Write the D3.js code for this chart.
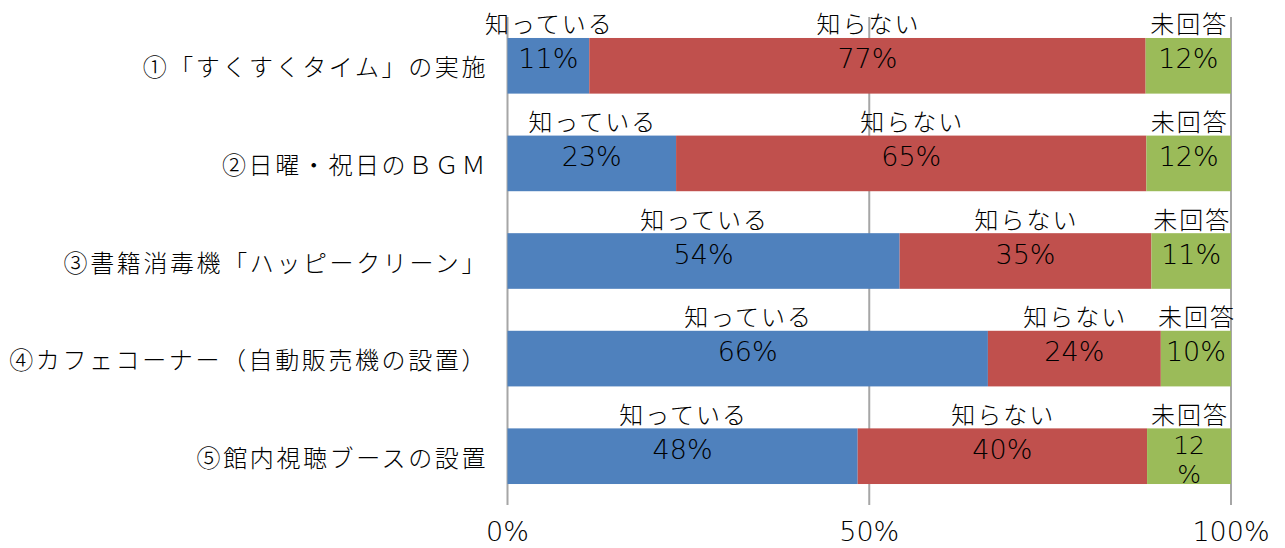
<!DOCTYPE html>
<html><head><meta charset="utf-8">
<script src="https://cdn.jsdelivr.net/npm/d3@7"></script>
<style>
html,body{margin:0;padding:0;background:#fff;}
text{font-family:"Noto Sans CJK JP","Noto Sans",sans-serif;fill:#000;}
.jp{font-weight:300;}
.num{font-family:"DejaVu Sans","Noto Sans",sans-serif;font-weight:200;}
</style></head>
<body><svg id="chart" width="1285" height="548"></svg>
<script>
const categories = [
  "①「すくすくタイム」の実施",
  "②日曜・祝日のＢＧＭ",
  "③書籍消毒機「ハッピークリーン」",
  "④カフェコーナー（自動販売機の設置）",
  "⑤館内視聴ブースの設置"
];
const seriesNames = ["知っている", "知らない", "未回答"];
const known   = [11.3, 23.3, 54.2, 66.4, 48.4];
const unknown = [76.9, 65.0, 34.8, 23.9, 40.0];
const noAnswer= [11.8, 11.7, 11.0, 9.7, 11.6];
const xTicks = [0, 50, 100];
const tickLabels = ["0%", "50%", "100%"];
// labels that wrap onto two lines in the original: [row, series]
const wrappedLabels = [[4, 2]];

const colors = ["#4F81BD", "#C0504D", "#9BBB59"];

const svg = d3.select("#chart");
const x = d3.scaleLinear().domain([0, 100]).range([507.5, 1231]);
const y = d3.scaleBand().domain(categories).range([17, 505]).paddingInner(0.43).paddingOuter(0.215);

const rows = categories.map((c, i) => ({cat: c, vals: [known[i], unknown[i], noAnswer[i]]}));
const stack = d3.stack().keys([0, 1, 2]).value((d, k) => d.vals[k]);
const series = stack(rows);

// gridlines
svg.append("g").selectAll("line").data(xTicks).join("line")
  .attr("x1", d => x(d)).attr("x2", d => x(d))
  .attr("y1", 17).attr("y2", 505)
  .attr("stroke", "#A6A6A6").attr("stroke-width", 2);

// bars
series.forEach((s, k) => {
  svg.append("g").selectAll("rect").data(s).join("rect")
    .attr("x", d => x(d[0]))
    .attr("width", d => x(d[1]) - x(d[0]))
    .attr("y", (d, i) => y(categories[i]))
    .attr("height", y.bandwidth())
    .attr("fill", colors[k]);
});

// series name labels above each segment + value labels
series.forEach((s, k) => {
  s.forEach((d, i) => {
    const cx = (x(d[0]) + x(d[1])) / 2;
    const top = y(categories[i]);
    svg.append("text").attr("class", "jp")
      .attr("x", cx + 1).attr("y", top - 15)
      .attr("text-anchor", "middle").attr("dominant-baseline", "central")
      .style("font-size", "24px").style("letter-spacing", "2px")
      .text(seriesNames[k]);
    const label = Math.round(d.data.vals[k]) + "%";
    const wrap = wrappedLabels.some(w => w[0] === i && w[1] === k);
    const cy = top + y.bandwidth() / 2 - 7;
    if (wrap) {
      const t = svg.append("text").attr("class", "num").attr("text-anchor", "middle").style("font-size", "25px");
      t.append("tspan").attr("x", cx).attr("y", top + 17).attr("dominant-baseline", "central").text(label.slice(0, -1));
      t.append("tspan").attr("x", cx).attr("y", top + 46).attr("dominant-baseline", "central").text("%");
    } else {
      svg.append("text").attr("class", "num")
        .attr("x", cx).attr("y", cy)
        .attr("text-anchor", "middle").attr("dominant-baseline", "central")
        .style("font-size", "27px")
        .text(label);
    }
  });
});

// category labels
svg.append("g").selectAll("text").data(categories).join("text").attr("class", "jp")
  .attr("x", 488).attr("y", d => y(d) + y.bandwidth() / 2)
  .attr("text-anchor", "end").attr("dominant-baseline", "central")
  .style("font-size", "24px").style("letter-spacing", "2.6px")
  .text(d => d);

// x tick labels
svg.append("g").selectAll("text").data(xTicks).join("text").attr("class", "num")
  .attr("x", d => x(d)).attr("y", 531)
  .attr("text-anchor", "middle").attr("dominant-baseline", "central")
  .style("font-size", "27px")
  .text((d, i) => tickLabels[i]);
</script>
</body></html>
